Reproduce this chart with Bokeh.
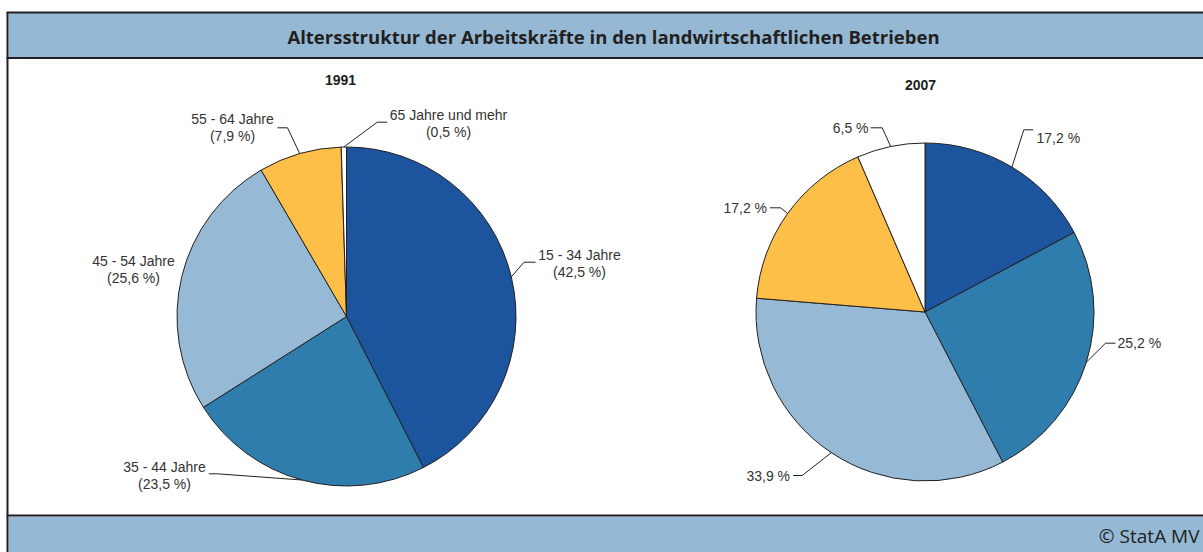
import numpy as np
from bokeh.plotting import figure
from bokeh.models import Range1d
from bokeh.core.properties import value
from bokeh.embed import file_html
from bokeh.resources import INLINE

# ---------------- data ----------------
title = "Altersstruktur der Arbeitskräfte in den landwirtschaftlichen Betrieben"
years = ["1991", "2007"]
age_groups = ["15 - 34 Jahre", "35 - 44 Jahre", "45 - 54 Jahre", "55 - 64 Jahre", "65 Jahre und mehr"]
shares_1991 = [42.5, 23.5, 25.6, 7.9, 0.5]
shares_2007 = [17.2, 25.2, 33.9, 17.2, 6.5]
colors = ["#1c559d", "#2f7dac", "#96bad5", "#fdbf47", "#ffffff"]
source_note = "© StatA MV"

# ---------------- layout ----------------
W, H = 1203, 552
BAND = "#95b9d5"
DARK = "#231f20"
LABEL = "#333333"


def Y(v):
    return H - v


p = figure(width=W, height=H, x_range=Range1d(0, W), y_range=Range1d(0, H),
           output_backend="svg", toolbar_location=None, min_border=0,
           x_axis_type=None, y_axis_type=None)
p.grid.visible = False
p.outline_line_color = None
p.background_fill_color = "white"
p.border_fill_color = "white"

# header / footer bands and frame
p.quad(left=[8, 8], right=[W, W], top=[Y(12), Y(516)], bottom=[Y(58), 0],
       fill_color=BAND, line_color=None)
p.multi_line(xs=[[6, W], [6, W], [6, W], [7, 7]],
             ys=[[Y(12), Y(12)], [Y(57.5), Y(57.5)], [Y(515), Y(515)], [Y(12), 0]],
             line_color=DARK, line_width=2)

p.text(x=[613], y=[Y(36)], text=[title], text_align="center", text_baseline="middle",
       text_font=value("Open Sans"), text_font_style="bold", text_font_size="18.5px",
       text_color=DARK)
p.text(x=[1199], y=[Y(535)], text=[source_note], text_align="right", text_baseline="middle",
       text_font=value("Open Sans"), text_font_size="19px", text_color=DARK)


def fmt(v):
    return f"{v:.1f}".replace(".", ",")


def pie(cx, cy, r, shares, year, year_pos, labels):
    cum = np.concatenate([[0.0], np.cumsum(shares)]) / 100.0 * 2 * np.pi
    start = np.pi / 2 - cum[1:]
    end = np.pi / 2 - cum[:-1]
    p.wedge(x=cx, y=Y(cy), radius=r, start_angle=start, end_angle=end,
            direction="anticlock", fill_color=colors, line_color=DARK, line_width=1)
    mid = (cum[:-1] + cum[1:]) / 2
    ex = cx + r * np.sin(mid)
    ey = cy - r * np.cos(mid)
    xs, ys = [], []
    tx, ty, tt, ta = [], [], [], []
    for i, lab in enumerate(labels):
        if lab is None:
            continue
        leader, (lx, ly), align, lines = lab
        if leader is not None:
            (bx, by), (fx, fy) = leader
            xs.append([ex[i], bx, fx])
            ys.append([Y(ey[i]), Y(by), Y(fy)])
        for k, line in enumerate(lines):
            tx.append(lx)
            ty.append(Y(ly + k * 17.5))
            tt.append(line)
            ta.append(align)
    if xs:
        p.multi_line(xs=xs, ys=ys, line_color=DARK, line_width=1)
    p.text(x=tx, y=ty, text=tt, text_align=ta, text_baseline="middle",
           text_font=value("Liberation Sans"), text_font_size="14px", text_color=LABEL)
    p.text(x=[year_pos[0]], y=[Y(year_pos[1])], text=[year], text_align="center",
           text_baseline="middle", text_font=value("Liberation Sans"),
           text_font_style="bold", text_font_size="14px", text_color=DARK)


s91 = shares_1991
labels_91 = [
    (((523.5, 261.7), (535, 261.7)), (579, 254), "center", [age_groups[0], f"({fmt(s91[0])} %)"]),
    (((216.7, 473.3), (208.3, 473.3)), (164, 466), "center", [age_groups[1], f"({fmt(s91[1])} %)"]),
    (None, (133, 260), "center", [age_groups[2], f"({fmt(s91[2])} %)"]),
    (((287, 127.3), (277, 127.3)), (232, 118), "center", [age_groups[3], f"({fmt(s91[3])} %)"]),
    (((376.7, 121.7), (386.7, 121.7)), (448, 114), "center", [age_groups[4], f"({fmt(s91[4])} %)"]),
]
pie(346, 316, 169.5, shares_1991, years[0], (340, 79), labels_91)

s07 = shares_2007
labels_07 = [
    (((1023.3, 129.3), (1032.7, 129.3)), (1036, 137.5), "left", [f"{fmt(s07[0])} %"]),
    (((1105, 342.7), (1115, 342.7)), (1117, 342.7), "left", [f"{fmt(s07[1])} %"]),
    (((801.7, 475), (792.7, 475)), (789.5, 475), "right", [f"{fmt(s07[2])} %"]),
    (((780, 207.3), (769.3, 207.3)), (766.5, 207.3), "right", [f"{fmt(s07[3])} %"]),
    (((881.7, 127.3), (870, 127.3)), (868, 127.5), "right", [f"{fmt(s07[4])} %"]),
]
pie(924.5, 311.5, 169, shares_2007, years[1], (920, 84), labels_07)

open("out.html", "w").write(file_html(p, INLINE))
